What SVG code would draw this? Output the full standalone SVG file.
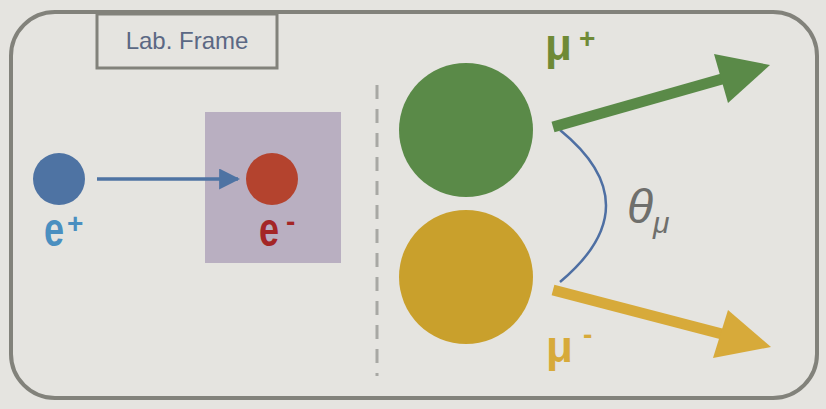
<svg xmlns="http://www.w3.org/2000/svg" width="826" height="409" viewBox="0 0 826 409">
<defs>
<style>
.frame{fill:none;stroke:#82827b}
.lbl{font-family:"Liberation Sans",Arial,sans-serif;font-weight:bold}
.sup{font-family:"Liberation Sans",Arial,sans-serif;font-weight:bold;font-size:28px}
</style>
<marker id="ah" viewBox="0 0 10 10" refX="9" refY="5" markerWidth="6" markerHeight="6" markerUnits="strokeWidth" orient="auto">
<path d="M0,0 L10,5 L0,10 z" fill="#4e73a3"/>
</marker>
</defs>
<rect x="0" y="0" width="826" height="409" fill="#e5e4e0"/>
<g id="frame">
<rect class="frame" x="11" y="12" width="806" height="386" rx="44" ry="44" stroke-width="4"/>
</g>
<g id="labframe">
<rect class="frame" x="97" y="14" width="180" height="54" stroke-width="3"/>
<text x="187" y="49" text-anchor="middle" font-family="Liberation Sans, Arial, sans-serif" font-size="24" fill="#5b6884">Lab. Frame</text>
</g>
<g id="target-box">
<rect x="205" y="112" width="136" height="151" fill="#b9afc1"/>
</g>
<g id="dashed">
<line x1="377" y1="85" x2="377" y2="376" stroke="#a8a8a4" stroke-width="3" stroke-dasharray="14 10"/>
</g>
<g id="connectors">
<line x1="97" y1="179" x2="238" y2="179" stroke="#4e73a3" stroke-width="3.5" marker-end="url(#ah)"/>
<path d="M560,130 Q652,205 560,282" fill="none" stroke="#4e6fa3" stroke-width="2.5"/>
<g id="mu-plus-arrow">
<line x1="553" y1="127" x2="722" y2="79" stroke="#5a8a48" stroke-width="11"/>
<polygon points="770,65 714,54 728,103" fill="#5a8a48"/>
</g>
<g id="mu-minus-arrow">
<line x1="553" y1="290" x2="722" y2="334" stroke="#d7aa3a" stroke-width="11"/>
<polygon points="771,347 728,310 713,358" fill="#d7aa3a"/>
</g>
</g>
<g id="positron">
<circle cx="59" cy="179" r="26" fill="#4e73a3"/>
<text class="lbl" transform="translate(44,246) scale(0.75,1)" font-size="48" fill="#4a8fc0">e</text>
<text class="sup" x="67" y="233" fill="#4a8fc0">+</text>
</g>
<g id="electron">
<circle cx="272" cy="179" r="26" fill="#b4432e"/>
<text class="lbl" transform="translate(259,246) scale(0.75,1)" font-size="48" fill="#a42626">e</text>
<text class="sup" x="286" y="231" fill="#a42626">-</text>
</g>
<g id="mu-plus">
<circle cx="466" cy="130" r="67" fill="#5a8a48"/>
<text class="lbl" x="545" y="60" font-size="44" fill="#6f8a36">μ</text>
<text class="sup" x="579" y="48" fill="#6f8a36">+</text>
</g>
<g id="mu-minus">
<circle cx="466" cy="277" r="67" fill="#c9a02c"/>
<text class="lbl" x="546" y="362" font-size="44" fill="#d7aa3a">μ</text>
<text class="sup" x="583" y="344" fill="#d7aa3a">-</text>
</g>
<g id="theta">
<text x="627" y="223" font-family="Liberation Sans, Arial, sans-serif" font-style="italic" font-size="48" fill="#6f6f6c">θ<tspan font-size="30" dy="10">μ</tspan></text>
</g>
</svg>
